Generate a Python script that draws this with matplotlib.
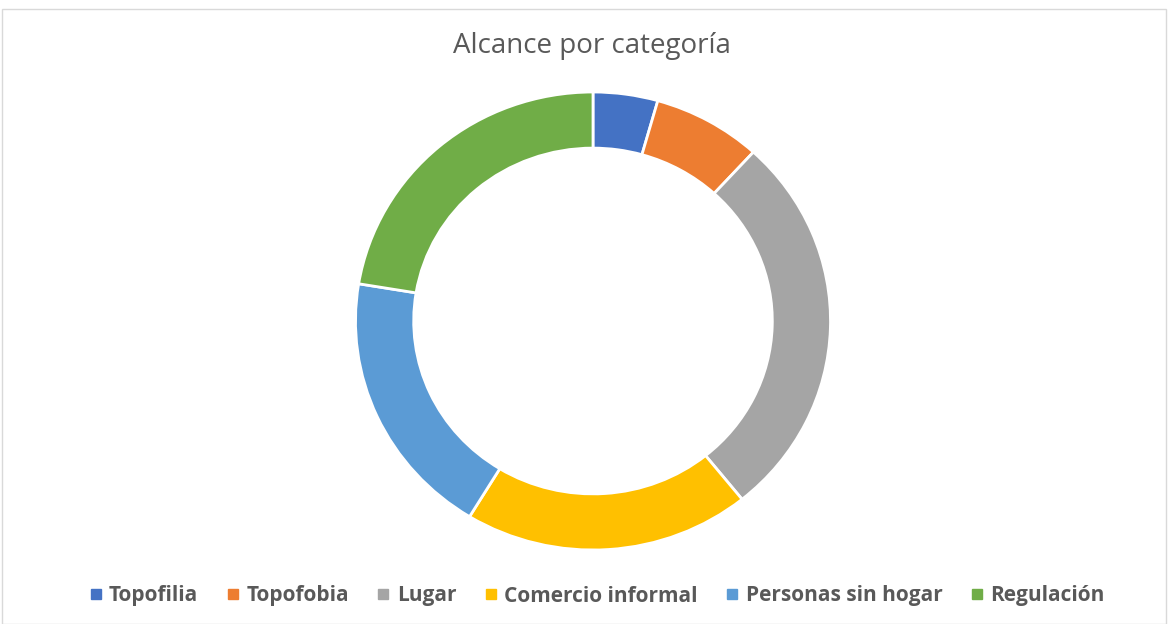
import matplotlib.pyplot as plt
from matplotlib.patches import Rectangle
from matplotlib.lines import Line2D

categories = ["Topofilia", "Topofobia", "Lugar", "Comercio informal",
              "Personas sin hogar", "Regulación"]
values = [4.4, 7.4, 27.4, 19.5, 18.9, 22.4]
colors = ["#4472C4", "#ED7D31", "#A5A5A5", "#FFC000", "#5B9BD5", "#70AD47"]

W, H = 1169, 624
fig = plt.figure(figsize=(W / 100, H / 100), dpi=100)

# donut, slightly wider than tall as in the original
ax = fig.add_axes([355.5 / W, (H - 550) / H, 475 / W, 458 / H])
ax.pie(values, colors=colors, startangle=90, counterclock=False,
       radius=1, wedgeprops=dict(width=0.245, edgecolor="white", linewidth=2))
ax.set_aspect("auto")
ax.set_xlim(-1, 1)
ax.set_ylim(-1, 1)
ax.axis("off")

fig.text(592 / W, 1 - 46 / H, "Alcance por categoría", ha="center", va="center",
         fontsize=20, color="#595959", family="Open Sans")

handles = [Line2D([], [], marker="s", linestyle="", markersize=7.5,
                  markerfacecolor=c, markeredgecolor=c) for c in colors]
leg = fig.legend(handles, categories, loc="center", bbox_to_anchor=(597 / W, 1 - 596 / H),
                 ncol=6, frameon=False, handlelength=0.6, handletextpad=0.35,
                 columnspacing=1.35, prop=dict(family="Open Sans", weight="bold", size=15))
for t in leg.get_texts():
    t.set_color("#595959")

fig.patches.append(Rectangle((2 / W, 0), 1164 / W, 1 - 8.5 / H, transform=fig.transFigure,
                             fill=False, edgecolor="#D9D9D9", linewidth=1))

fig.savefig("out.png", dpi=100)
